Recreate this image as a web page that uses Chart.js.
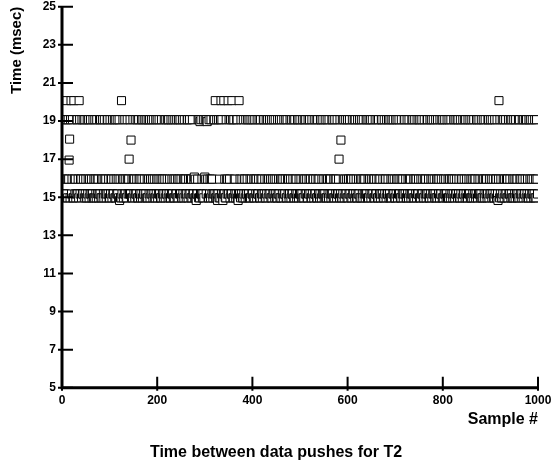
<!DOCTYPE html>
<html>
<head>
<meta charset="utf-8">
<title>Time between data pushes for T2</title>
<script src="https://cdn.jsdelivr.net/npm/chart.js@4.4.1/dist/chart.umd.min.js"></script>
<style>
  html, body { margin: 0; padding: 0; background: #fff; }
  #grafico { display: block; }
</style>
</head>
<body>
<canvas id="grafico" width="552" height="466"></canvas>
<script>
// --- Dados ---
const xTicks = [0, 200, 400, 600, 800, 1000];
const yTicks = [5, 7, 9, 11, 13, 15, 17, 19, 21, 23, 25];

// cada amostra cai numa das faixas (a..d); uma letra por amostra, 40 por linha
const bandCodes = ['a', 'b', 'c', 'd'];
const bandTimes = [14.97, 15.17, 15.95, 19.07];
const sampleCodes = [
    'dacbdbcabdacadcbcadbbcdaadcbcabddbcaadbc',
    'cadbbcdadbcaadbcdacbdbcabdacadcbadcbcabd',
    'bdacadcbadcbcabddbcaadbccadbbcdadacbdbca',
    'dbcaadbcdacbdbcaadcbcabdbdacadcbcadbbcda',
    'adcbcabdcadbbcdabdacadcbdacbdbcadbcaadbc',
    'dacbdbcaadcbcabdcadbbcdadbcaadbcbdacadcb',
    'bdacadcbdbcaadbcadcbcabddacbdbcacadbbcda',
    'cadbbcdadacbdbcabdacadcbdbcaadbcadcbcabd',
    'dbcaadbcbdacadcbdacbdbcaadcbcabdcadbbcda',
    'adcbcabddacbdbcadbcaadbccadbbcdabdacadcb',
    'bdacadcbcadbbcdaadcbcabddbcaadbcdacbdbca',
    'dacbdbcadbcaadbcbdacadcbcadbbcdaadcbcabd',
    'cadbbcdaadcbcabddacbdbcabdacadcbdbcaadbc',
    'dbcaadbccadbbcdaadcbcabddacbdbcabdacadcb',
    'adcbcabdbdacadcbcadbbcdadbcaadbcdacbdbca',
    'dacbdbcacadbbcdadbcaadbcbdacadcbadcbcabd',
    'bdacadcbdacbdbcacadbbcdaadcbcabddbcaadbc',
    'cadbbcdabdacadcbdbcaadbcdacbdbcaadcbcabd',
    'dbcaadbcadcbcabdbdacadcbcadbbcdadacbdbca',
    'adcbcabddbcaadbcdacbdbcabdacadcbcadbbcda',
    'dacbdbcabdacadcbadcbcabdcadbbcdadbcaadbc',
    'cadbbcdadbcaadbcbdacadcbadcbcabddacbdbca',
    'bdacadcbadcbcabddacbdbcadbcaadbccadbbcda',
    'dbcaadbcdacbdbcacadbbcdabdacadcbadcbcabd',
    'adcbcabdcadbbcdadbcaadbcdacbdbcabdacadcb'
].join('');

// amostras fora das faixas
const outlierSamples = [10, 19, 25, 36, 125, 322, 334, 340, 349, 357, 372, 918,
    16, 145, 586, 15, 141, 582,
    121, 282, 327, 338, 370, 916,
    278, 300, 290, 305];
const outlierTimes = [20.07, 20.07, 20.07, 20.07, 20.07, 20.07, 20.07, 20.07, 20.07, 20.07, 20.07, 20.07,
    18.05, 18.0, 18.0, 16.95, 17.0, 17.0,
    14.83, 14.83, 14.83, 14.83, 14.83, 14.83,
    16.06, 16.06, 18.97, 18.97];

// --- Monta os pontos ---
const times = sampleCodes.split('').map(c => bandTimes[bandCodes.indexOf(c)]);
outlierSamples.forEach((s, i) => { times[s] = outlierTimes[i]; });
const points = times.map((t, i) => ({ x: i, y: t }));

const FONTE = "'Liberation Sans', Arial, sans-serif";
Chart.defaults.font.family = FONTE;
Chart.defaults.color = '#000';

// eixos e marcas desenhados por cima dos pontos
const eixosPlugin = {
    id: 'eixos',
    afterDatasetsDraw(chart) {
        const { ctx, chartArea: { left, right, top, bottom }, scales: { x, y } } = chart;
        ctx.save();
        ctx.strokeStyle = '#000';
        ctx.lineWidth = 3;
        ctx.beginPath();
        ctx.moveTo(left, top);
        ctx.lineTo(left, bottom + 1.5);
        ctx.moveTo(left - 1.5, bottom);
        ctx.lineTo(right, bottom);
        ctx.stroke();

        ctx.lineWidth = 2;
        ctx.beginPath();
        yTicks.forEach(v => {
            const py = y.getPixelForValue(v);
            ctx.moveTo(left - 4, py);
            ctx.lineTo(left + 11, py);
        });
        xTicks.forEach(v => {
            const px = x.getPixelForValue(v);
            ctx.moveTo(px, bottom - 11);
            ctx.lineTo(px, bottom + 3);
        });
        ctx.stroke();
        ctx.restore();
    }
};

new Chart(document.getElementById('grafico').getContext('2d'), {
    type: 'scatter',
    data: {
        datasets: [{
            data: points,
            pointStyle: 'rect',
            pointRadius: 5.7,
            pointHoverRadius: 5.7,
            backgroundColor: '#fff',
            borderColor: '#000',
            borderWidth: 1,
            clip: 0
        }]
    },
    options: {
        responsive: false,
        animation: false,
        events: [],
        layout: { padding: { top: 0, right: 0, bottom: 4, left: 0 } },
        scales: {
            x: {
                type: 'linear',
                min: 0,
                max: 1000,
                afterBuildTicks: (s) => { s.ticks = xTicks.map(v => ({ value: v })); },
                afterFit: (s) => {
                    s.height = 45;
                    s.paddingLeft = 0;
                    s.paddingRight = 14;
                },
                grid: { display: false, drawTicks: false },
                border: { display: false },
                ticks: {
                    padding: 6, maxRotation: 0, autoSkip: false,
                    font: { size: 12, weight: 'bold' },
                    callback: (v) => String(v)
                },
                title: {
                    display: true,
                    text: 'Sample #',
                    align: 'end',
                    font: { size: 16, weight: 'bold' },
                    padding: { top: 0, bottom: 4 }
                }
            },
            y: {
                min: 5,
                max: 25,
                afterBuildTicks: (s) => { s.ticks = yTicks.map(v => ({ value: v })); },
                afterFit: (s) => {
                    s.width = 62;
                    s.paddingTop = 6.5;
                    s.paddingBottom = 0;
                },
                grid: { display: false, drawTicks: false },
                border: { display: false },
                ticks: { padding: 6, autoSkip: false, font: { size: 12, weight: 'bold' } },
                title: {
                    display: true,
                    text: 'Time (msec)',
                    align: 'end',
                    font: { size: 15, weight: 'bold' },
                    padding: { top: 8, bottom: 0 }
                }
            }
        },
        plugins: {
            legend: { display: false },
            tooltip: { enabled: false },
            title: {
                display: true,
                position: 'bottom',
                text: 'Time between data pushes for T2',
                font: { size: 16, weight: 'bold' },
                padding: { top: 10, bottom: 0 }
            }
        }
    },
    plugins: [eixosPlugin]
});
</script>
</body>
</html>
